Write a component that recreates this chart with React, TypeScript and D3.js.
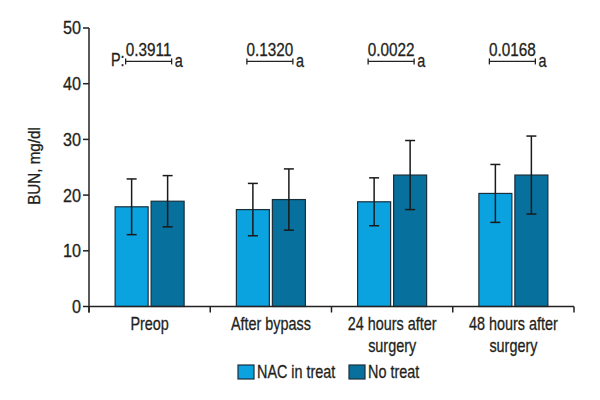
import React from "react";
import * as d3 from "d3";

const categories: string[][] = [["Preop"], ["After bypass"], ["24 hours after", "surgery"], ["48 hours after", "surgery"]];
const seriesNames = ["NAC in treat", "No treat"];
const nacMean = [17.9, 17.4, 18.8, 20.3];
const nacSD = [5.0, 4.7, 4.3, 5.2];
const noTreatMean = [18.9, 19.2, 23.6, 23.6];
const noTreatSD = [4.6, 5.5, 6.2, 7.0];
const pValues = ["0.3911", "0.1320", "0.0022", "0.0168"];
const yTicks = [0, 10, 20, 30, 40, 50];
const colors = ["#0aa3e0", "#07709c"];

const FONT = "'Liberation Sans', Arial, sans-serif";
const W = 600, H = 400;
const margin = { left: 89, right: 26, top: 28, bottom: 93.5 };

type TxtProps = { x: number; y: number; anchor?: "start" | "middle" | "end"; size?: number; sx?: number; rotate?: number; dy?: string; children: React.ReactNode };
function Txt({ x, y, anchor = "start", size = 18, sx = 0.8, rotate = 0, dy, children }: TxtProps) {
  return (
    <g transform={`translate(${x},${y}) rotate(${rotate}) scale(${sx},1)`}>
      <text x={0} y={0} dy={dy} textAnchor={anchor} fontSize={size} fill="#231f20" stroke="#231f20" strokeWidth={0.3}>{children}</text>
    </g>
  );
}

export default function App() {
  const y = d3.scaleLinear().domain([0, 50]).range([H - margin.bottom, margin.top]);
  const x = d3.scaleBand<number>().domain(d3.range(categories.length)).range([margin.left, W - margin.right]).padding(0);
  const barW = 33, gap = 3;
  const x1 = d3.scaleBand<number>().domain([0, 1]).range([-(barW + gap / 2), barW + gap / 2]).paddingInner(gap / (barW + gap)).paddingOuter(0);
  const series = [
    { mean: nacMean, sd: nacSD },
    { mean: noTreatMean, sd: noTreatSD },
  ];
  const axisColor = "#222";
  const y0 = y(0);
  const boundaries = d3.range(categories.length + 1).map((i) => (i < categories.length ? (x(i) as number) : W - margin.right));
  const bracketY = y(44);

  return (
    <svg width={W} height={H} style={{ position: "absolute", left: 0, top: 0, background: "#fff" }} fontFamily={FONT}>
      {/* bars */}
      {categories.map((_, i) => {
        const cx = (x(i) as number) + x.bandwidth() / 2;
        return (
          <g key={i}>
            {series.map((s, j) => {
              const bx = cx + (x1(j) as number);
              const bw = x1.bandwidth();
              const top = y(s.mean[i]);
              const mx = bx + bw / 2;
              return (
                <g key={j}>
                  <rect x={bx} y={top} width={bw} height={y0 - top} fill={colors[j]} stroke="#1b2e3a" strokeWidth={1.2} />
                  <line x1={mx} x2={mx} y1={y(s.mean[i] + s.sd[i])} y2={y(s.mean[i] - s.sd[i])} stroke="#1a1a1a" strokeWidth={1.5} />
                  <line x1={mx - 5} x2={mx + 5} y1={y(s.mean[i] + s.sd[i])} y2={y(s.mean[i] + s.sd[i])} stroke="#1a1a1a" strokeWidth={1.5} />
                  <line x1={mx - 5} x2={mx + 5} y1={y(s.mean[i] - s.sd[i])} y2={y(s.mean[i] - s.sd[i])} stroke="#1a1a1a" strokeWidth={1.5} />
                </g>
              );
            })}
          </g>
        );
      })}

      {/* p-value brackets */}
      {pValues.map((p, i) => {
        const cx = (x(i) as number) + x.bandwidth() / 2 - 1;
        const x0b = cx - 23, x1b = cx + 23;
        return (
          <g key={i}>
            <line x1={x0b} x2={x1b} y1={bracketY} y2={bracketY} stroke="#222" strokeWidth={1.3} />
            <line x1={x0b} x2={x0b} y1={bracketY - 3} y2={bracketY + 3} stroke="#222" strokeWidth={1.3} />
            <line x1={x1b} x2={x1b} y1={bracketY - 3} y2={bracketY + 3} stroke="#222" strokeWidth={1.3} />
            <Txt x={cx} y={bracketY - 5} anchor="middle" sx={0.85}>{p}</Txt>
            <Txt x={x1b + 3} y={bracketY + 6}>a</Txt>
            {i === 0 && <Txt x={x0b - 1} y={bracketY + 5} anchor="end">P:</Txt>}
          </g>
        );
      })}

      {/* y axis */}
      <line x1={margin.left} x2={margin.left} y1={margin.top} y2={y0 + 6} stroke={axisColor} strokeWidth={1.5} />
      {yTicks.map((t) => (
        <g key={t}>
          <line x1={margin.left - 6} x2={margin.left} y1={y(t)} y2={y(t)} stroke={axisColor} strokeWidth={1.5} />
          <Txt x={margin.left - 8} y={y(t)} dy="0.36em" anchor="end" sx={0.9}>{t}</Txt>
        </g>
      ))}
      <Txt x={40} y={166} anchor="middle" size={16} sx={0.95} rotate={-90}>BUN, mg/dl</Txt>

      {/* x axis */}
      <line x1={margin.left} x2={W - margin.right} y1={y0} y2={y0} stroke={axisColor} strokeWidth={1.5} />
      {boundaries.map((b, i) => (
        <line key={i} x1={b} x2={b} y1={y0} y2={y0 + 6} stroke={axisColor} strokeWidth={1.5} />
      ))}
      {categories.map((lines, i) => {
        const cx = (x(i) as number) + x.bandwidth() / 2;
        return (
          <g key={i}>
            {lines.map((l, k) => (
              <Txt key={k} x={cx} y={330 + k * 21.5} anchor="middle">{l}</Txt>
            ))}
          </g>
        );
      })}

      {/* legend */}
      {seriesNames.map((n, j) => {
        const lx = j === 0 ? 238 : 349;
        return (
          <g key={n}>
            <rect x={lx} y={365} width={16} height={14} fill={colors[j]} stroke="#1b2e3a" strokeWidth={1.2} />
            <Txt x={lx + 19} y={378}>{n}</Txt>
          </g>
        );
      })}
    </svg>
  );
}
